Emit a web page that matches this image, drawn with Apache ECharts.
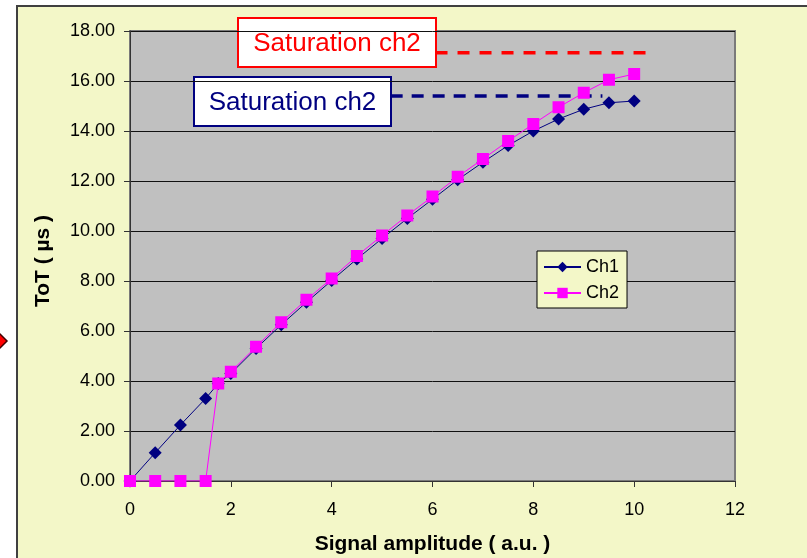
<!DOCTYPE html>
<html>
<head>
<meta charset="utf-8">
<script src="https://cdn.jsdelivr.net/npm/echarts@6/dist/echarts.min.js"></script>
<style>
  html, body { margin: 0; padding: 0; background: #fff; }
  #chart { width: 807px; height: 558px; }
</style>
</head>
<body>
<div id="chart"></div>
<script>
// signal amplitude (a.u.)
const amplitude = [0, 0.5, 1, 1.5, 1.75, 2, 2.5, 3, 3.5, 4, 4.5, 5, 5.5, 6, 6.5, 7, 7.5, 8, 8.5, 9, 9.5, 10];
// ToT (us)
const ch1 = [0, 1.13, 2.24, 3.3, 3.9, 4.3, 5.3, 6.25, 7.15, 8.02, 8.88, 9.7, 10.5, 11.27, 12.05, 12.75, 13.42, 14.0, 14.48, 14.87, 15.13, 15.2];
const ch2 = [0, 0, 0, 0, 3.9, 4.37, 5.37, 6.35, 7.25, 8.1, 9.0, 9.82, 10.62, 11.38, 12.17, 12.88, 13.6, 14.28, 14.95, 15.53, 16.05, 16.28];
// saturation levels (dashed lines)
const satRedLevel = 17.13;
const satRedRange = [6.06, 10.27];
const satNavyLevel = 15.4;
const satNavyRange = [5.17, 9.37];
const satLabel = "Saturation ch2";

const font = "'Liberation Sans', Arial, sans-serif";
const pair = (xs, ys) => xs.map((x, i) => [x, ys[i]]);

const myChart = echarts.init(document.getElementById('chart'));
const option = {
  animation: false,
  backgroundColor: 'transparent',
  textStyle: { fontFamily: font },
  grid: {
    left: 130, right: 72, top: 31, bottom: 77,
    outerBoundsMode: 'none',
    containLabel: false,
    show: true,
    backgroundColor: '#C0C0C0',
    borderColor: '#7a7a7a',
    borderWidth: 2
  },
  legend: {
    data: ['Ch1', 'Ch2'],
    orient: 'vertical',
    left: 537, top: 251,
    padding: [7, 8, 6, 6],
    itemWidth: 37, itemHeight: 13,
    itemGap: 8,
    backgroundColor: '#F3F7C8',
    borderColor: '#000',
    borderWidth: 1,
    textStyle: { fontFamily: font, fontSize: 18, color: '#000' }
  },
  xAxis: {
    type: 'value',
    min: 0, max: 12, interval: 2,
    name: 'Signal amplitude ( a.u. )',
    nameLocation: 'middle',
    nameGap: 53,
    nameTextStyle: { fontFamily: font, fontSize: 21, fontWeight: 'bold', color: '#000' },
    axisLine: { lineStyle: { color: '#333', width: 1 } },
    axisTick: { show: true, inside: false, length: 6, lineStyle: { color: '#333' } },
    axisLabel: { fontFamily: font, fontSize: 18, color: '#000', margin: 20 },
    splitLine: { show: false }
  },
  yAxis: {
    type: 'value',
    min: 0, max: 18, interval: 2,
    name: 'ToT ( µs )',
    nameLocation: 'middle',
    nameGap: 76,
    nameRotate: 90,
    nameTextStyle: { fontFamily: font, fontSize: 21, fontWeight: 'bold', color: '#000', padding: [0, 10, 0, 0] },
    axisLine: { show: true, lineStyle: { color: '#333', width: 1 } },
    axisTick: { show: true, inside: false, length: 6, lineStyle: { color: '#333' } },
    axisLabel: { fontFamily: font, fontSize: 18, color: '#000', margin: 15,
      formatter: v => v.toFixed(2) },
    splitLine: { show: true, lineStyle: { color: '#111', width: 1 } }
  },
  series: [
    {
      name: 'Ch1', type: 'line',
      data: pair(amplitude, ch1),
      symbol: 'diamond', symbolSize: 13,
      itemStyle: { color: '#000080' },
      lineStyle: { color: '#000080', width: 1 },
      z: 3
    },
    {
      name: 'Ch2', type: 'line',
      data: pair(amplitude, ch2),
      symbol: 'rect', symbolSize: 12,
      itemStyle: { color: '#FF00FF' },
      lineStyle: { color: '#FF00FF', width: 1 },
      z: 4
    },
    {
      name: 'satRed', type: 'line',
      data: satRedRange.map(x => [x, satRedLevel]),
      symbol: 'none',
      lineStyle: { color: '#FF0000', width: 3.5, type: [12, 10] },
      silent: true
    },
    {
      name: 'satNavy', type: 'line',
      data: satNavyRange.map(x => [x, satNavyLevel]),
      symbol: 'none',
      lineStyle: { color: '#000080', width: 3.5, type: [12, 9] },
      silent: true
    }
  ],
  graphic: [
    {
      type: 'rect', z: -100, silent: true,
      shape: { x: 17, y: 6, width: 900, height: 700 },
      style: { fill: '#F3F7C8', stroke: '#404040', lineWidth: 2 }
    },
    {
      type: 'polygon', z: 100, silent: true,
      shape: { points: [[-11, 341], [-2, 332], [7, 341], [-2, 350]] },
      style: { fill: '#FF0000', stroke: '#400000', lineWidth: 1.5 }
    },
    {
      type: 'group', z: 100,
      children: [
        { type: 'rect', shape: { x: 238, y: 18, width: 198, height: 49 },
          style: { fill: '#fff', stroke: '#FF0000', lineWidth: 2 } },
        { type: 'text', x: 337, y: 44,
          style: { text: satLabel, fill: '#FF0000', font: "26px 'Liberation Sans', Arial, sans-serif",
            textAlign: 'center', textVerticalAlign: 'middle' } }
      ]
    },
    {
      type: 'group', z: 100,
      children: [
        { type: 'rect', shape: { x: 194, y: 77, width: 197, height: 49 },
          style: { fill: '#fff', stroke: '#000080', lineWidth: 2 } },
        { type: 'text', x: 292.5, y: 103,
          style: { text: satLabel, fill: '#000080', font: "26px 'Liberation Sans', Arial, sans-serif",
            textAlign: 'center', textVerticalAlign: 'middle' } }
      ]
    }
  ]
};
myChart.setOption(option);
</script>
</body>
</html>
